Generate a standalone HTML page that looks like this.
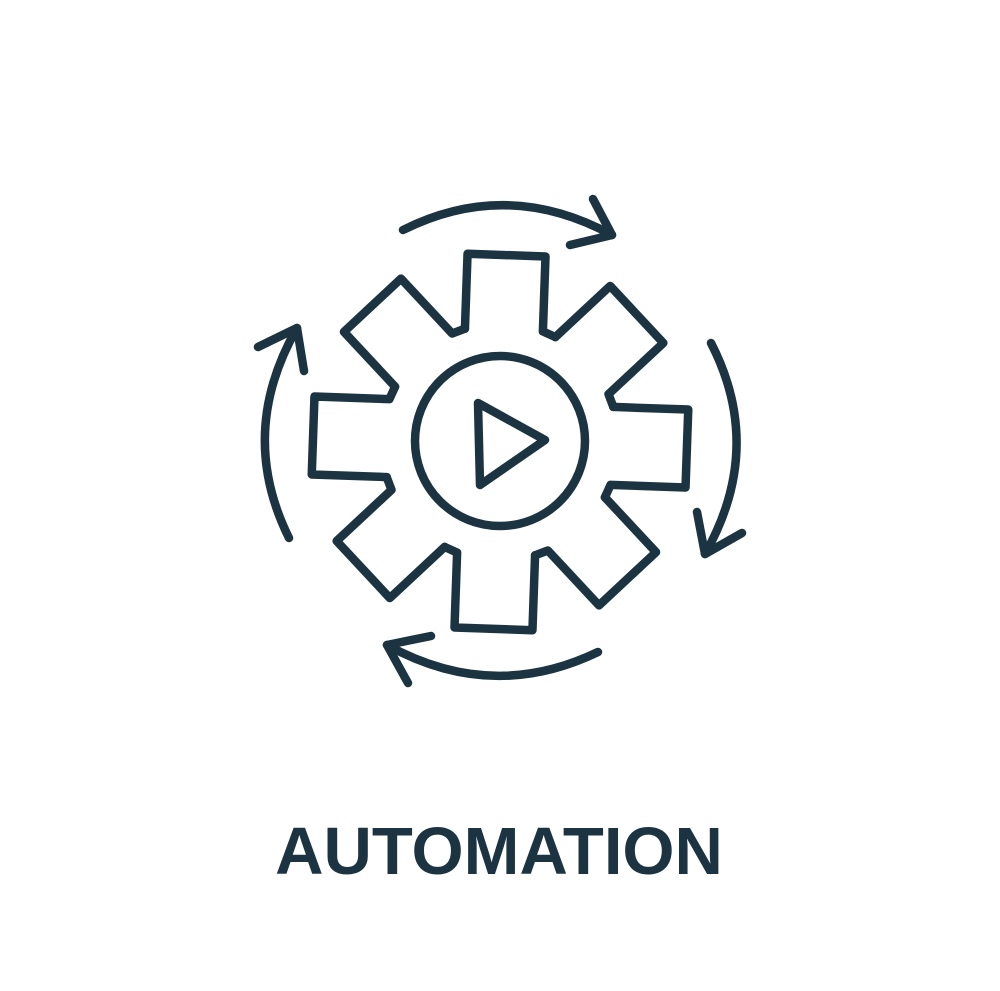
<!DOCTYPE html>
<html><head><meta charset="utf-8"><style>
html,body{margin:0;padding:0;background:#fff;}
svg{display:block;}
</style></head><body>
<svg width="1000" height="991" viewBox="0 0 1000 991" xmlns="http://www.w3.org/2000/svg">
<g fill="none" stroke="#1c3442" stroke-width="8.5" stroke-linecap="round" stroke-linejoin="round">
  <g transform="translate(500 442) rotate(2)">
    <g><polyline points="-39,-112 -39,-187 39,-187 39,-112 51.6,-106.8"/></g>
    <g transform="rotate(45)"><polyline points="-39,-112 -39,-187 39,-187 39,-112 51.6,-106.8"/></g>
    <g transform="rotate(90)"><polyline points="-39,-112 -39,-187 39,-187 39,-112 51.6,-106.8"/></g>
    <g transform="rotate(135)"><polyline points="-39,-112 -39,-187 39,-187 39,-112 51.6,-106.8"/></g>
    <g transform="rotate(180)"><polyline points="-39,-112 -39,-187 39,-187 39,-112 51.6,-106.8"/></g>
    <g transform="rotate(225)"><polyline points="-39,-112 -39,-187 39,-187 39,-112 51.6,-106.8"/></g>
    <g transform="rotate(270)"><polyline points="-39,-112 -39,-187 39,-187 39,-112 51.6,-106.8"/></g>
    <g transform="rotate(315)"><polyline points="-39,-112 -39,-187 39,-187 39,-112 51.6,-106.8"/></g>
  </g>
  <circle cx="500" cy="441" r="85"/>
  <polygon points="478,403 545,440 480,485"/>
  <path d="M403,230 Q507,178 612,235"/>
  <polyline points="593,199 612,235 570,245"/>
  <path d="M711,343 Q765,448 705,554"/>
  <polyline points="697,512 705,554 742,533"/>
  <path d="M598,652 Q492,703 387,645"/>
  <polyline points="408,683 387,645 431,636"/>
  <path d="M289,538 Q237,433 297,328"/>
  <polyline points="258,347 297,328 304,371"/>
</g>
<text x="499" y="874" text-anchor="middle" font-family="Liberation Sans, sans-serif" font-weight="bold" font-size="67" fill="#1c3442">AUTOMATION</text>
</svg>
</body></html>
